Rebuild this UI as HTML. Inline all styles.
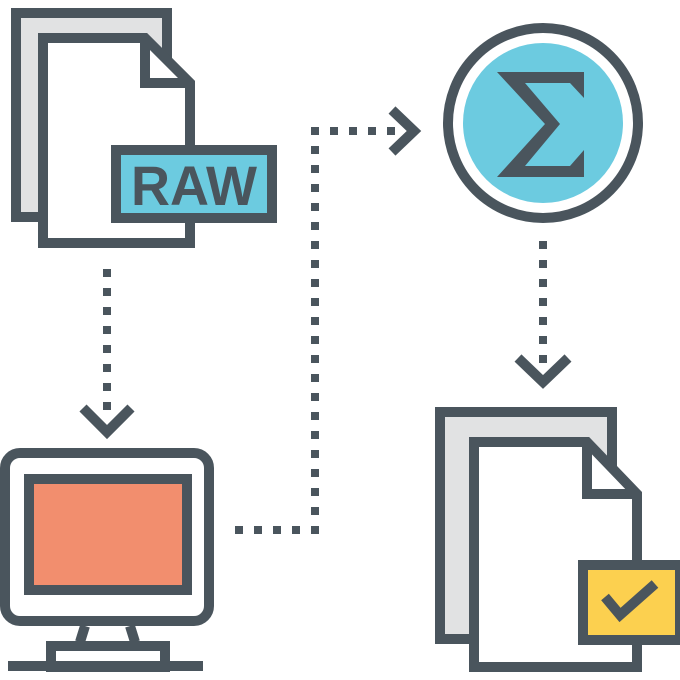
<!DOCTYPE html>
<html><head><style>html,body{margin:0;padding:0;background:#fff}svg{display:block}</style></head>
<body>
<svg width="680" height="680" viewBox="0 0 680 680" xmlns="http://www.w3.org/2000/svg">
<g stroke="#4a555d" stroke-width="10" fill="none" stroke-linejoin="miter">
  <rect x="16" y="13" width="151" height="204" fill="#e1e2e3"/>
  <path d="M43,38 H145 L190,83 V243 H43 Z" fill="#fff"/>
  <path d="M145,38 V83 H190"/>
  <rect x="116" y="150" width="156" height="68" fill="#6ccbe0"/>
  <rect x="5" y="453" width="204" height="168" rx="15" fill="#fff"/>
  <rect x="29" y="479" width="158" height="111" fill="#f28e6e"/>
  <path d="M85,626 L80,642 M130,626 L135,642" />
  <rect x="51" y="646" width="114" height="21" fill="#fff"/>
  <path d="M8,666 H203"/>
  <circle cx="543" cy="123" r="95" fill="#fff"/>
  <circle cx="543" cy="123" r="80" fill="#6ccbe0" stroke="none"/>
  <rect x="440" y="412" width="172" height="227" fill="#e1e2e3"/>
  <path d="M474,442 H587 L637,494 V667 H474 Z" fill="#fff"/>
  <path d="M587,442 V494 H637"/>
  <rect x="583" y="565" width="97" height="75" fill="#fcd04f"/>
  <path d="M605,597 L620,615 L655,584"/>
  <path d="M83,408 L107,432 L131,408"/>
  <path d="M392,110 L414,131 L392,152"/>
  <path d="M518,358 L543,382 L568,358"/>
</g>
<polygon fill="#4a555d" points="497,72 584,72 584,98 570,83 525,83 560,124 525,166 570,166 584,150 584,177 497,177 545,124"/>
<text x="131" y="205" textLength="126" lengthAdjust="spacingAndGlyphs" font-family="Liberation Sans, sans-serif" font-weight="bold" font-size="56" fill="#4a555d">RAW</text>
<g fill="#4a555d">
  <rect x="103" y="269" width="8" height="8"/><rect x="103" y="288" width="8" height="8"/><rect x="103" y="307" width="8" height="8"/><rect x="103" y="326" width="8" height="8"/><rect x="103" y="345" width="8" height="8"/><rect x="103" y="364" width="8" height="8"/><rect x="103" y="383" width="8" height="8"/><rect x="103" y="402" width="8" height="8"/>
  <rect x="311" y="127" width="8" height="8"/><rect x="311" y="146" width="8" height="8"/><rect x="311" y="165" width="8" height="8"/><rect x="311" y="184" width="8" height="8"/><rect x="311" y="203" width="8" height="8"/><rect x="311" y="222" width="8" height="8"/><rect x="311" y="241" width="8" height="8"/><rect x="311" y="260" width="8" height="8"/><rect x="311" y="279" width="8" height="8"/><rect x="311" y="298" width="8" height="8"/><rect x="311" y="317" width="8" height="8"/><rect x="311" y="336" width="8" height="8"/><rect x="311" y="355" width="8" height="8"/><rect x="311" y="374" width="8" height="8"/><rect x="311" y="393" width="8" height="8"/><rect x="311" y="412" width="8" height="8"/><rect x="311" y="431" width="8" height="8"/><rect x="311" y="450" width="8" height="8"/><rect x="311" y="469" width="8" height="8"/><rect x="311" y="488" width="8" height="8"/><rect x="311" y="507" width="8" height="8"/><rect x="311" y="526" width="8" height="8"/>
  <rect x="235" y="526" width="8" height="8"/><rect x="254" y="526" width="8" height="8"/><rect x="273" y="526" width="8" height="8"/><rect x="292" y="526" width="8" height="8"/>
  <rect x="330" y="127" width="8" height="8"/><rect x="349" y="127" width="8" height="8"/><rect x="368" y="127" width="8" height="8"/><rect x="387" y="127" width="8" height="8"/>
  <rect x="539" y="241" width="8" height="8"/><rect x="539" y="260" width="8" height="8"/><rect x="539" y="279" width="8" height="8"/><rect x="539" y="298" width="8" height="8"/><rect x="539" y="317" width="8" height="8"/><rect x="539" y="336" width="8" height="8"/><rect x="539" y="355" width="8" height="8"/>
</g>
</svg>
</body></html>
